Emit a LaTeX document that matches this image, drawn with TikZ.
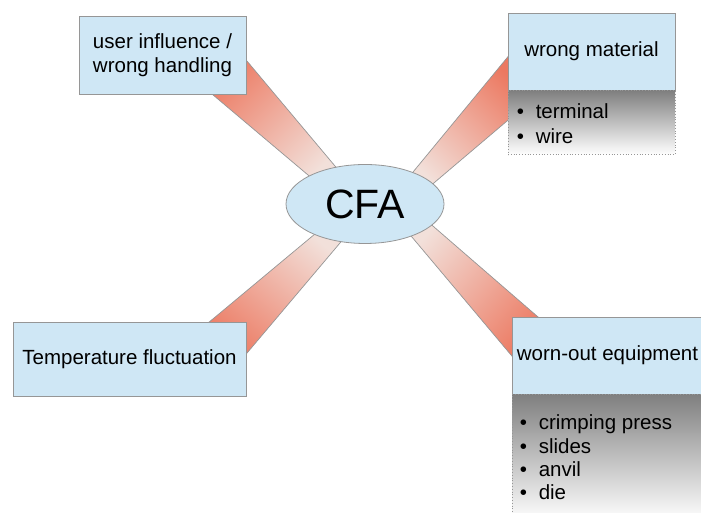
\documentclass[tikz,border=0pt]{standalone}
\usepackage{fontspec}
\setmainfont{Liberation Sans}
\usepackage{color}
\usetikzlibrary{arrows,calc,shapes.geometric,positioning,backgrounds}
\definecolor{boxblue}{RGB}{207,231,245}
\definecolor{boxline}{RGB}{150,150,150}
\definecolor{bandred}{RGB}{236,120,96}
\definecolor{bandpale}{RGB}{242,224,218}
\definecolor{listgray}{RGB}{128,128,128}
\tikzset{
  cause/.style={draw=boxline, fill=boxblue, line width=0.8pt, align=center, inner sep=0pt, font=\fontsize{20.5}{23.5}\selectfont},
  listbox/.style={draw=boxline, dotted, line width=0.8pt, top color=listgray, bottom color=white, inner sep=0pt},
  listitem/.style={anchor=base west, inner sep=0pt, font=\fontsize{20.5}{23.5}\selectfont},
  band/.style={draw=boxline, line width=0.7pt, top color=bandred, bottom color=bandpale}
}
\begin{document}
\begin{tikzpicture}[x=1pt,y=1pt]
\useasboundingbox (0,0) rectangle (701,513);
\node[ellipse, draw=boxline, fill=boxblue, line width=0.8pt, minimum width=158pt, minimum height=79pt, inner sep=0pt, font=\fontsize{41}{41}\selectfont] (cfa) at (365,309) {CFA};
\node[cause, minimum width=167pt, minimum height=78pt] (ui) at (162.5,458) {user influence /\\wrong handling};
\node[cause, minimum width=167pt, minimum height=77pt] (wm) at (591.5,461.5) {wrong material};
\node[listbox, minimum width=167pt, minimum height=64pt, below=0pt of wm] (wmlist) {};
\node[cause, minimum width=233pt, minimum height=74pt] (tf) at (129.5,154) {Temperature fluctuation};
\node[cause, minimum width=191pt, minimum height=77pt] (wo) at (607.5,157.5) {worn-out equipment};
\node[listbox, minimum width=191pt, minimum height=126pt, below=0pt of wo] (wolist) {};
% list entries
\node[listitem] (wm1) at ($(wmlist.north west)+(9,-28)$) {\makebox[19pt][l]{•}terminal};
\node[listitem] (wm2) at ($(wmlist.north west)+(9,-52.7)$) {\makebox[19pt][l]{•}wire};
\node[listitem] (wo1) at ($(wolist.north west)+(8,-35.6)$) {\makebox[19pt][l]{•}crimping press};
\node[listitem] (wo2) at ($(wolist.north west)+(8,-59.3)$) {\makebox[19pt][l]{•}slides};
\node[listitem] (wo3) at ($(wolist.north west)+(8,-81.7)$) {\makebox[19pt][l]{•}anvil};
\node[listitem] (wo4) at ($(wolist.north west)+(8,-104.7)$) {\makebox[19pt][l]{•}die};
% bands from CFA to the causes
\begin{scope}[on background layer]
\path[band, shading angle=45] ($(cfa.center)+(-45.5,19.3)$) -- ($(ui.south east)+(-45.5,9.7)$) -- ($(ui.south east)+(-9.6,45.5)$) -- ($(cfa.center)+(-20.4,26.5)$) -- cycle;
\path[band, shading angle=-44] ($(cfa.center)+(38.5,20.4)$) -- ($(wm.south west)+(8.5,43.6)$) -- ($(wm.south west)+(10.4,-21.3)$) -- ($(cfa.center)+(58.6,12.3)$) -- cycle;
\path[band, shading angle=-131] ($(cfa.center)+(55.4,-11.2)$) -- ($(wo.north west)+(37.3,-9.8)$) -- ($(wo.north west)+(9.6,-50.5)$) -- ($(cfa.center)+(37,-21.2)$) -- cycle;
\path[band, shading angle=140] ($(cfa.center)+(-41.8,-23.1)$) -- ($(tf.north east)+(-48.2,-9.6)$) -- ($(tf.north east)+(-9,-42.8)$) -- ($(cfa.center)+(-17,-29.5)$) -- cycle;
\end{scope}
\end{tikzpicture}
\end{document}
